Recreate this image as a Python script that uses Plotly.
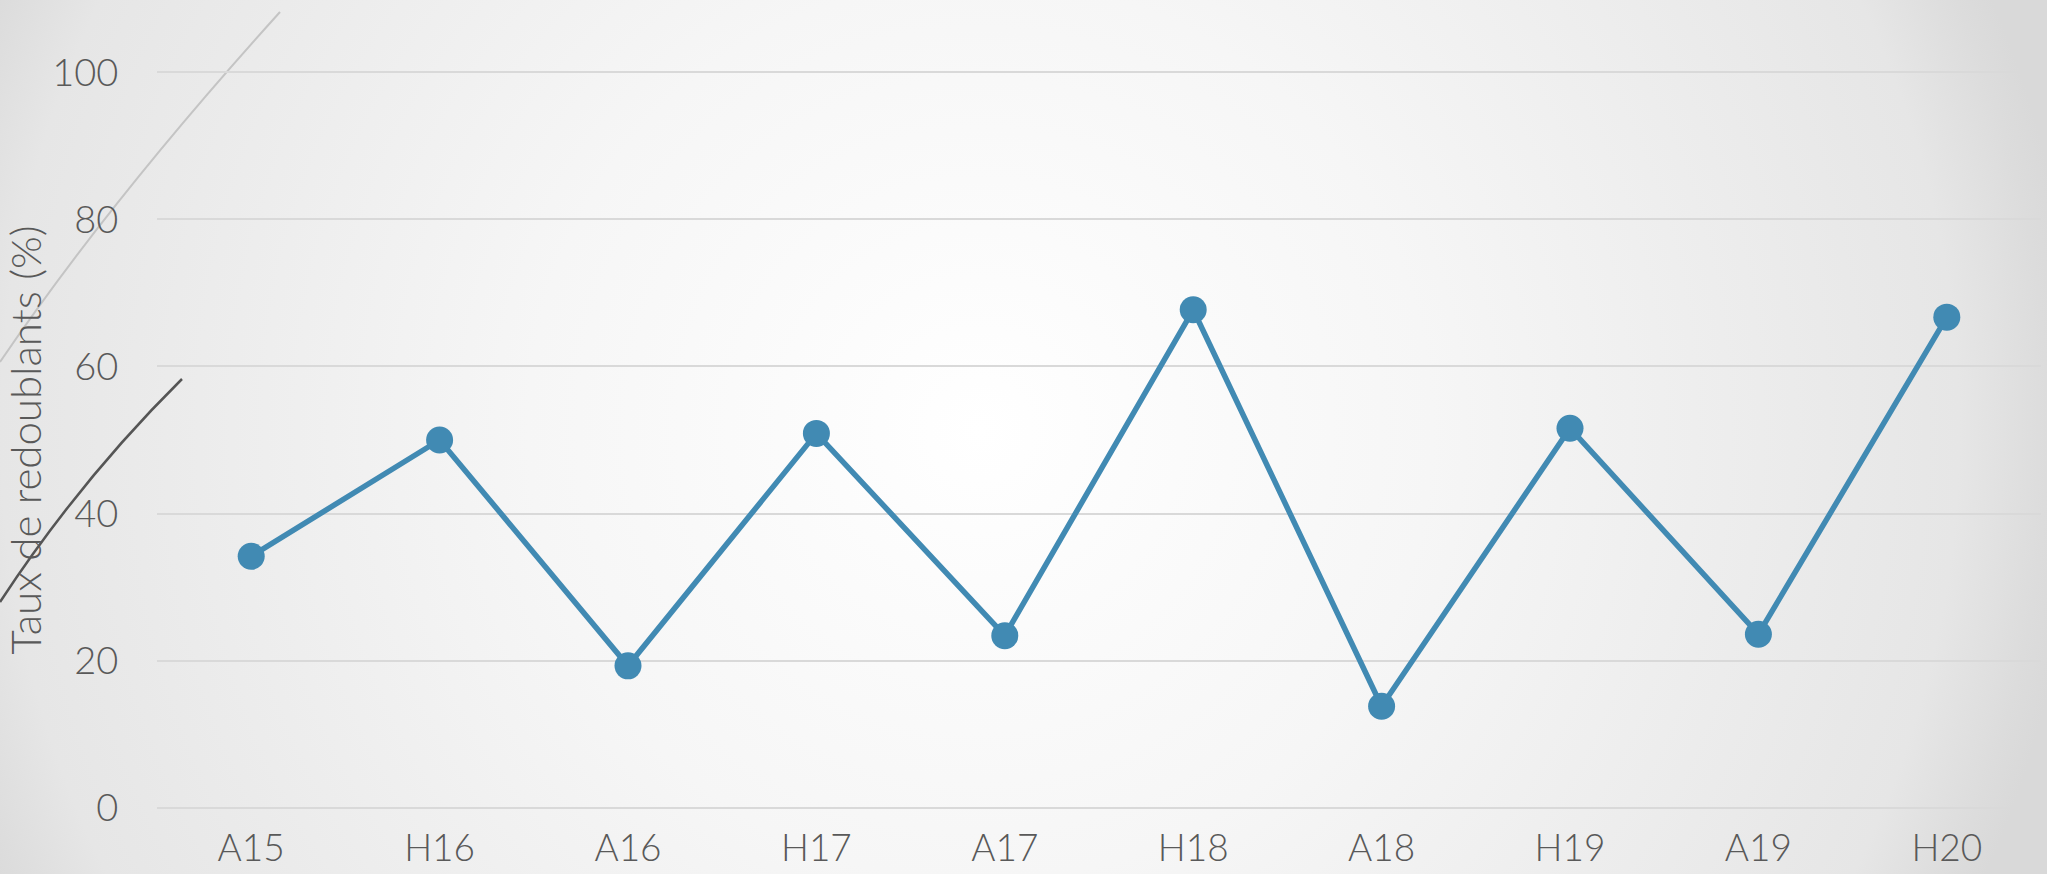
import base64
import plotly.graph_objects as go

# ---- data ----
categories = ["A15", "H16", "A16", "H17", "A17", "H18", "A18", "H19", "A19", "H20"]
taux_redoublants = [34.2, 50.0, 19.3, 50.9, 23.4, 67.7, 13.8, 51.6, 23.6, 66.7]
y_ticks = [0, 20, 40, 60, 80, 100]
y_range = [-0.3, 100.3]

W, H = 2047, 874
ML, MR, MT, MB = 157, 6, 70, 64
PW, PH = W - ML - MR, H - MT - MB

LINE_COLOR = "#418AB3"
TEXT_COLOR = "#595959"
FONT = "Lato"

# radial gradient background (decoration)
svg = f'''<svg xmlns="http://www.w3.org/2000/svg" width="{W}" height="{H}" viewBox="0 0 {W} {H}">
<defs><radialGradient id="g" gradientUnits="userSpaceOnUse" cx="980" cy="430" r="1100">
<stop offset="0" stop-color="#ffffff"/>
<stop offset="0.41" stop-color="#f6f6f6"/>
<stop offset="0.89" stop-color="#e6e6e6"/>
<stop offset="0.97" stop-color="#dcdcdc"/>
<stop offset="1" stop-color="#d9d9d9"/>
</radialGradient></defs>
<rect width="{W}" height="{H}" fill="url(#g)"/>
</svg>'''
bg_src = "data:image/svg+xml;base64," + base64.b64encode(svg.encode()).decode()


def px(x):
    return (x - ML) / PW


def py(y):
    return (MT + PH - y) / PH


def path(points):
    (x0, y0), rest = points[0], points[1:]
    s = f"M {px(x0)},{py(y0)}"
    for i in range(0, len(rest), 2):
        (cx, cy), (ex, ey) = rest[i], rest[i + 1]
        s += f" Q {px(cx)},{py(cy)} {px(ex)},{py(ey)}"
    return s


fig = go.Figure()
fig.add_trace(go.Scatter(
    x=categories, y=taux_redoublants, mode="lines+markers",
    line=dict(color=LINE_COLOR, width=5.5),
    marker=dict(color=LINE_COLOR, size=27),
    showlegend=False, hoverinfo="x+y",
))

fig.update_layout(
    width=W, height=H,
    margin=dict(l=ML, r=MR, t=MT, b=MB, autoexpand=False),
    paper_bgcolor="rgba(0,0,0,0)",
    plot_bgcolor="rgba(0,0,0,0)",
    font=dict(family=FONT, color=TEXT_COLOR, size=38, weight=300),
    images=[dict(source=bg_src, xref="paper", yref="paper",
                 x=px(0), y=py(0), sizex=W / PW, sizey=H / PH,
                 xanchor="left", yanchor="top", sizing="stretch", layer="below")],
    shapes=[
        dict(type="path", xref="paper", yref="paper", layer="below",
             path=path([(0, 362), (110, 200), (280, 12)]),
             line=dict(color="#c4c4c4", width=2)),
        dict(type="path", xref="paper", yref="paper", layer="below",
             path=path([(0, 602), (80, 480), (182, 379)]),
             line=dict(color="#555555", width=2.5)),
    ],
    xaxis=dict(
        type="category", range=[-0.5, len(categories) - 0.5],
        showgrid=False, zeroline=False, showline=False, automargin=False,
        ticks="outside", ticklen=0, tickcolor="rgba(0,0,0,0)",
        ticklabelstandoff=6,
        tickfont=dict(size=37, color=TEXT_COLOR, family=FONT, weight=300),
    ),
    yaxis=dict(
        range=y_range, tickvals=y_ticks, automargin=False,
        showgrid=True, gridcolor="#d9d9d9", gridwidth=2,
        zeroline=True, zerolinecolor="#d9d9d9", zerolinewidth=2, showline=False,
        ticks="outside", ticklen=0, tickcolor="rgba(0,0,0,0)",
        ticklabelstandoff=30,
        tickfont=dict(size=38, color=TEXT_COLOR, family=FONT, weight=300),
        title=dict(text="Taux de redoublants (%)", standoff=16,
                   font=dict(size=42, color=TEXT_COLOR, family=FONT, weight=300)),
    ),
)

fig.write_html("out.html",
               config={"displayModeBar": False},
               post_script="document.body.style.margin='0';document.body.style.overflow='hidden';")
